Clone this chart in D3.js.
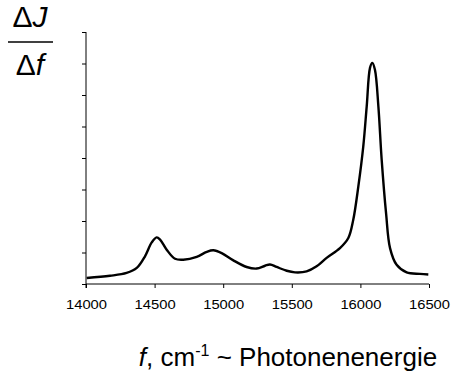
<!DOCTYPE html>
<html><head><meta charset="utf-8">
<script src="https://cdn.jsdelivr.net/npm/d3@7"></script>
<style>body{margin:0;background:#fff}svg{display:block}text{font-family:"Liberation Sans",Arial,sans-serif;fill:#000}</style>
</head><body>
<svg id="c" width="453" height="374"></svg>
<script>
const xTicks = [14000, 14500, 15000, 15500, 16000, 16500];
const yTicks = [0, 1, 2, 3, 4, 5, 6, 7, 8];
const freq = [14005,14175,14296,14370,14430,14479,14515,14540,14588,14649,14709,14807,14880,14928,14989,15074,15171,15244,15305,15341,15390,15463,15523,15608,15681,15754,15851,15912,15948,15985,16021,16046,16070,16087,16106,16131,16155,16187,16216,16264,16337,16434,16495];
const signal = [0.19,0.26,0.35,0.51,0.88,1.32,1.48,1.41,1.09,0.80,0.77,0.86,1.02,1.07,0.98,0.75,0.54,0.49,0.58,0.62,0.54,0.42,0.37,0.40,0.56,0.83,1.14,1.46,2.04,3.10,4.37,5.64,6.86,7.02,6.80,5.64,3.95,2.25,1.14,0.61,0.37,0.32,0.30];

const svg = d3.select("#c");
const x = d3.scaleLinear().domain([14000, 16500]).range([86, 429]);
const y = d3.scaleLinear().domain([0, 8]).range([284, 32]);

svg.append("g").attr("transform","translate(0,284)")
  .call(d3.axisBottom(x).tickValues(xTicks).tickSize(4).tickPadding(12).tickFormat(d3.format("d")))
  .call(g=>{g.select(".domain").attr("d","M86,0H429");
    g.selectAll("text").attr("font-size",12.5).attr("font-family","Liberation Sans, Arial")
     .attr("textLength",41).attr("lengthAdjust","spacingAndGlyphs")});
svg.append("g").attr("transform","translate(86,0)")
  .call(d3.axisLeft(y).tickValues(yTicks).tickSize(4).tickFormat(""))
  .call(g=>g.select(".domain").attr("d","M0,288V32"));

svg.append("path").datum(d3.zip(freq, signal))
  .attr("fill","none").attr("stroke","#000").attr("stroke-width",2.4).attr("stroke-linejoin","round")
  .attr("d", d3.line().x(d=>x(d[0])).y(d=>y(d[1])).curve(d3.curveCatmullRom));

// y label fraction
const yl = svg.append("g");
yl.append("text").attr("x",30).attr("y",27).attr("text-anchor","middle").attr("font-size",30)
  .html('Δ<tspan font-style="italic">J</tspan>');
yl.append("line").attr("x1",8).attr("x2",53).attr("y1",42).attr("y2",42).attr("stroke","#000").attr("stroke-width",1.5);
yl.append("text").attr("x",30).attr("y",75).attr("text-anchor","middle").attr("font-size",30)
  .html('Δ<tspan font-style="italic">f</tspan>');

// x label
svg.append("text").attr("x",288).attr("y",366).attr("text-anchor","middle").attr("font-size",26)
  .html('<tspan font-style="italic">f</tspan>, cm<tspan font-size="16" dy="-10">-1</tspan><tspan dy="10"> ~ Photonenenergie</tspan>');
</script>
</body></html>
